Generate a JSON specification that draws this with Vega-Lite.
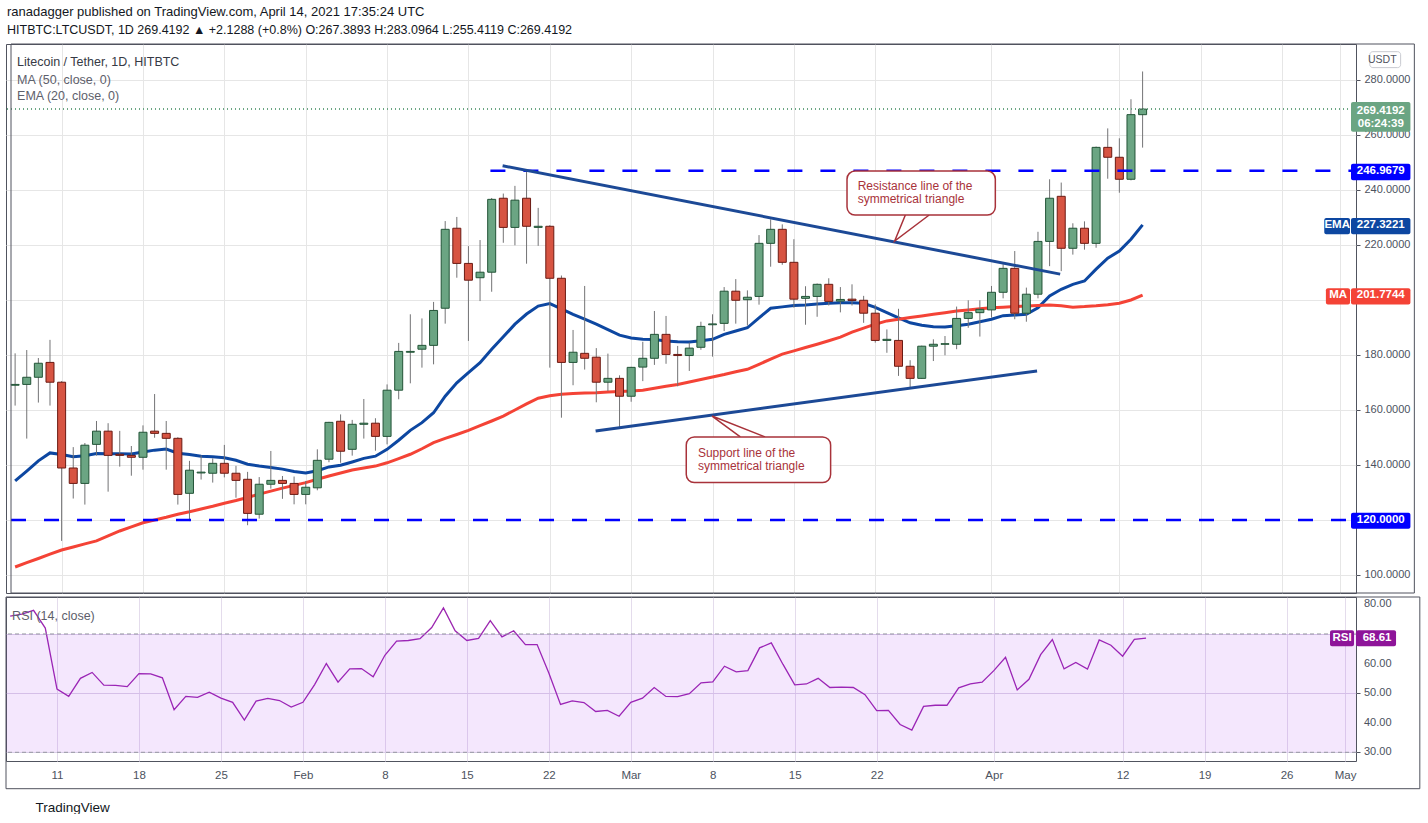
{
  "$schema": "https://vega.github.io/schema/vega-lite/v6.json",
  "background": "white",
  "padding": {"left": 5, "top": 5, "right": 0, "bottom": 0},
  "spacing": 2,
  "title": {
    "text": "ranadagger published on TradingView.com, April 14, 2021 17:35:24 UTC",
    "subtitle": "HITBTC:LTCUSDT, 1D  269.4192 ▲ +2.1288 (+0.8%) O:267.3893 H:283.0964 L:255.4119 C:269.4192",
    "anchor": "start",
    "font": "Liberation Sans",
    "fontSize": 13,
    "fontWeight": "normal",
    "color": "#131722",
    "subtitleFont": "Liberation Sans",
    "subtitleFontSize": 12.5,
    "subtitleColor": "#131722",
    "subtitlePadding": 5,
    "offset": 7,
    "dx": 2
  },
  "config": {
    "font": "Liberation Sans",
    "view": {"stroke": "#50535e", "strokeWidth": 1},
    "axis": {"labelFont": "Liberation Sans", "labelColor": "#4c525e", "labelFontSize": 11, "domain": false, "minExtent": 0}
  },
  "datasets": {
    "candles": [
      {"t": "2021-01-07", "o": 169.0, "h": 180.6, "l": 161.6, "c": 169.3, "ema": 134.2, "ma": 102.9, "rsi": 76.0},
      {"t": "2021-01-08", "o": 169.3, "h": 181.8, "l": 149.6, "c": 171.9, "ema": 137.8, "ma": 104.5, "rsi": 76.7},
      {"t": "2021-01-09", "o": 171.9, "h": 178.9, "l": 162.7, "c": 177.0, "ema": 141.5, "ma": 106.0, "rsi": 78.0},
      {"t": "2021-01-10", "o": 177.3, "h": 185.5, "l": 161.6, "c": 170.1, "ema": 144.4, "ma": 107.6, "rsi": 72.0},
      {"t": "2021-01-11", "o": 170.1, "h": 170.5, "l": 112.4, "c": 138.9, "ema": 143.8, "ma": 109.1, "rsi": 51.4},
      {"t": "2021-01-12", "o": 138.9, "h": 146.5, "l": 127.8, "c": 133.3, "ema": 143.0, "ma": 110.2, "rsi": 48.9},
      {"t": "2021-01-13", "o": 133.3, "h": 148.0, "l": 125.6, "c": 147.2, "ema": 143.4, "ma": 111.3, "rsi": 55.0},
      {"t": "2021-01-14", "o": 147.5, "h": 156.0, "l": 143.4, "c": 152.3, "ema": 144.2, "ma": 112.4, "rsi": 57.0},
      {"t": "2021-01-15", "o": 152.3, "h": 155.2, "l": 130.3, "c": 143.5, "ema": 144.1, "ma": 114.2, "rsi": 52.7},
      {"t": "2021-01-16", "o": 143.9, "h": 152.4, "l": 139.4, "c": 143.5, "ema": 144.1, "ma": 116.0, "rsi": 52.6},
      {"t": "2021-01-17", "o": 143.5, "h": 146.9, "l": 136.1, "c": 142.8, "ema": 144.0, "ma": 117.5, "rsi": 52.2},
      {"t": "2021-01-18", "o": 142.8, "h": 154.4, "l": 138.3, "c": 151.9, "ema": 144.7, "ma": 119.0, "rsi": 56.6},
      {"t": "2021-01-19", "o": 152.3, "h": 165.8, "l": 149.9, "c": 151.5, "ema": 145.4, "ma": 120.0, "rsi": 56.5},
      {"t": "2021-01-20", "o": 151.5, "h": 156.0, "l": 138.3, "c": 149.7, "ema": 145.8, "ma": 121.0, "rsi": 55.2},
      {"t": "2021-01-21", "o": 149.7, "h": 150.1, "l": 125.6, "c": 129.3, "ema": 144.3, "ma": 122.1, "rsi": 44.4},
      {"t": "2021-01-22", "o": 129.7, "h": 141.5, "l": 119.6, "c": 138.1, "ema": 143.8, "ma": 123.0, "rsi": 48.9},
      {"t": "2021-01-23", "o": 137.1, "h": 143.5, "l": 134.7, "c": 137.4, "ema": 143.2, "ma": 124.0, "rsi": 48.6},
      {"t": "2021-01-24", "o": 137.0, "h": 142.4, "l": 133.6, "c": 140.6, "ema": 143.0, "ma": 125.0, "rsi": 50.3},
      {"t": "2021-01-25", "o": 140.6, "h": 147.3, "l": 135.5, "c": 137.0, "ema": 142.6, "ma": 126.1, "rsi": 48.3},
      {"t": "2021-01-26", "o": 137.0, "h": 139.7, "l": 128.1, "c": 134.4, "ema": 141.7, "ma": 127.1, "rsi": 46.9},
      {"t": "2021-01-27", "o": 134.8, "h": 137.5, "l": 118.1, "c": 122.4, "ema": 140.3, "ma": 128.2, "rsi": 40.9},
      {"t": "2021-01-28", "o": 122.1, "h": 135.6, "l": 120.5, "c": 133.0, "ema": 139.6, "ma": 129.4, "rsi": 47.3},
      {"t": "2021-01-29", "o": 133.0, "h": 145.1, "l": 131.4, "c": 134.4, "ema": 139.1, "ma": 130.5, "rsi": 48.2},
      {"t": "2021-01-30", "o": 134.4, "h": 136.0, "l": 127.7, "c": 133.3, "ema": 138.5, "ma": 131.6, "rsi": 47.5},
      {"t": "2021-01-31", "o": 133.3, "h": 135.8, "l": 125.7, "c": 129.3, "ema": 137.6, "ma": 132.6, "rsi": 45.3},
      {"t": "2021-02-01", "o": 129.3, "h": 134.2, "l": 125.7, "c": 131.9, "ema": 137.1, "ma": 133.6, "rsi": 46.9},
      {"t": "2021-02-02", "o": 131.7, "h": 145.7, "l": 130.8, "c": 141.7, "ema": 137.9, "ma": 134.8, "rsi": 52.9},
      {"t": "2021-02-03", "o": 142.1, "h": 155.7, "l": 141.0, "c": 155.5, "ema": 139.3, "ma": 136.0, "rsi": 60.0},
      {"t": "2021-02-04", "o": 155.9, "h": 158.4, "l": 140.8, "c": 145.0, "ema": 139.9, "ma": 137.1, "rsi": 53.7},
      {"t": "2021-02-05", "o": 145.7, "h": 156.4, "l": 143.4, "c": 154.8, "ema": 141.1, "ma": 138.2, "rsi": 58.2},
      {"t": "2021-02-06", "o": 154.8, "h": 164.0, "l": 149.6, "c": 155.2, "ema": 142.4, "ma": 138.9, "rsi": 58.3},
      {"t": "2021-02-07", "o": 155.2, "h": 157.0, "l": 145.2, "c": 150.4, "ema": 143.2, "ma": 139.6, "rsi": 55.5},
      {"t": "2021-02-08", "o": 150.4, "h": 169.3, "l": 147.5, "c": 167.2, "ema": 145.7, "ma": 140.8, "rsi": 62.8},
      {"t": "2021-02-09", "o": 167.2, "h": 184.4, "l": 163.9, "c": 181.3, "ema": 149.0, "ma": 142.3, "rsi": 67.6},
      {"t": "2021-02-10", "o": 181.0, "h": 194.8, "l": 169.7, "c": 181.3, "ema": 152.6, "ma": 143.9, "rsi": 67.8},
      {"t": "2021-02-11", "o": 182.1, "h": 193.3, "l": 175.4, "c": 183.5, "ema": 155.4, "ma": 145.9, "rsi": 68.4},
      {"t": "2021-02-12", "o": 183.5, "h": 199.3, "l": 176.6, "c": 196.2, "ema": 159.0, "ma": 148.1, "rsi": 72.2},
      {"t": "2021-02-13", "o": 197.0, "h": 228.7, "l": 191.4, "c": 225.7, "ema": 165.0, "ma": 149.7, "rsi": 78.8},
      {"t": "2021-02-14", "o": 226.1, "h": 230.2, "l": 208.1, "c": 213.3, "ema": 169.9, "ma": 151.1, "rsi": 71.1},
      {"t": "2021-02-15", "o": 213.3, "h": 219.6, "l": 185.1, "c": 207.2, "ema": 173.6, "ma": 152.6, "rsi": 67.8},
      {"t": "2021-02-16", "o": 208.1, "h": 221.8, "l": 199.6, "c": 210.1, "ema": 177.2, "ma": 154.3, "rsi": 68.5},
      {"t": "2021-02-17", "o": 210.1, "h": 237.1, "l": 203.0, "c": 236.6, "ema": 182.1, "ma": 156.0, "rsi": 74.5},
      {"t": "2021-02-18", "o": 237.0, "h": 238.7, "l": 220.8, "c": 226.4, "ema": 186.6, "ma": 157.8, "rsi": 69.0},
      {"t": "2021-02-19", "o": 226.4, "h": 241.5, "l": 219.9, "c": 236.3, "ema": 191.2, "ma": 160.0, "rsi": 71.1},
      {"t": "2021-02-20", "o": 237.0, "h": 246.9, "l": 213.2, "c": 226.8, "ema": 194.9, "ma": 162.2, "rsi": 66.4},
      {"t": "2021-02-21", "o": 226.4, "h": 233.5, "l": 219.7, "c": 226.8, "ema": 197.8, "ma": 164.3, "rsi": 66.4},
      {"t": "2021-02-22", "o": 226.8, "h": 227.2, "l": 175.4, "c": 207.9, "ema": 198.7, "ma": 165.2, "rsi": 56.8},
      {"t": "2021-02-23", "o": 207.9, "h": 208.9, "l": 157.2, "c": 177.3, "ema": 196.8, "ma": 165.7, "rsi": 46.2},
      {"t": "2021-02-24", "o": 177.3, "h": 189.1, "l": 169.0, "c": 181.0, "ema": 194.8, "ma": 166.0, "rsi": 47.4},
      {"t": "2021-02-25", "o": 180.6, "h": 205.1, "l": 174.7, "c": 178.8, "ema": 193.0, "ma": 166.2, "rsi": 46.8},
      {"t": "2021-02-26", "o": 179.2, "h": 182.5, "l": 162.8, "c": 170.1, "ema": 191.2, "ma": 166.3, "rsi": 43.8},
      {"t": "2021-02-27", "o": 170.1, "h": 180.5, "l": 166.9, "c": 171.5, "ema": 189.2, "ma": 166.5, "rsi": 44.2},
      {"t": "2021-02-28", "o": 171.5, "h": 172.6, "l": 153.6, "c": 165.0, "ema": 187.2, "ma": 166.7, "rsi": 42.2},
      {"t": "2021-03-01", "o": 165.0, "h": 175.7, "l": 163.0, "c": 175.5, "ema": 186.2, "ma": 166.9, "rsi": 46.9},
      {"t": "2021-03-02", "o": 175.6, "h": 184.8, "l": 170.5, "c": 178.8, "ema": 185.7, "ma": 167.2, "rsi": 48.3},
      {"t": "2021-03-03", "o": 178.8, "h": 196.0, "l": 176.4, "c": 187.5, "ema": 185.6, "ma": 167.9, "rsi": 51.9},
      {"t": "2021-03-04", "o": 187.5, "h": 194.2, "l": 176.8, "c": 180.2, "ema": 185.1, "ma": 168.6, "rsi": 48.9},
      {"t": "2021-03-05", "o": 180.2, "h": 183.3, "l": 168.6, "c": 179.8, "ema": 184.8, "ma": 169.3, "rsi": 48.8},
      {"t": "2021-03-06", "o": 179.8, "h": 184.5, "l": 174.2, "c": 182.5, "ema": 184.7, "ma": 170.2, "rsi": 49.8},
      {"t": "2021-03-07", "o": 182.8, "h": 192.1, "l": 181.9, "c": 190.4, "ema": 185.2, "ma": 171.1, "rsi": 53.5},
      {"t": "2021-03-08", "o": 191.0, "h": 194.8, "l": 179.4, "c": 191.3, "ema": 185.7, "ma": 172.0, "rsi": 53.8},
      {"t": "2021-03-09", "o": 191.5, "h": 204.7, "l": 188.7, "c": 203.2, "ema": 187.5, "ma": 172.9, "rsi": 59.1},
      {"t": "2021-03-10", "o": 203.2, "h": 207.6, "l": 191.4, "c": 199.9, "ema": 188.7, "ma": 173.9, "rsi": 57.2},
      {"t": "2021-03-11", "o": 200.1, "h": 203.5, "l": 190.7, "c": 201.0, "ema": 189.9, "ma": 174.8, "rsi": 57.6},
      {"t": "2021-03-12", "o": 201.3, "h": 223.6, "l": 198.3, "c": 220.6, "ema": 193.5, "ma": 176.6, "rsi": 65.3},
      {"t": "2021-03-13", "o": 220.6, "h": 229.3, "l": 212.1, "c": 225.7, "ema": 197.0, "ma": 178.5, "rsi": 67.0},
      {"t": "2021-03-14", "o": 225.7, "h": 227.5, "l": 212.8, "c": 213.7, "ema": 197.5, "ma": 180.3, "rsi": 59.7},
      {"t": "2021-03-15", "o": 213.7, "h": 222.1, "l": 197.2, "c": 200.3, "ema": 198.0, "ma": 181.5, "rsi": 52.8},
      {"t": "2021-03-16", "o": 200.6, "h": 205.0, "l": 191.0, "c": 201.3, "ema": 198.2, "ma": 182.7, "rsi": 53.1},
      {"t": "2021-03-17", "o": 201.3, "h": 206.0, "l": 193.9, "c": 205.7, "ema": 198.5, "ma": 183.9, "rsi": 55.0},
      {"t": "2021-03-18", "o": 205.7, "h": 207.9, "l": 198.0, "c": 199.5, "ema": 198.8, "ma": 185.2, "rsi": 51.9},
      {"t": "2021-03-19", "o": 199.6, "h": 204.7, "l": 195.5, "c": 200.2, "ema": 199.0, "ma": 186.5, "rsi": 52.0},
      {"t": "2021-03-20", "o": 200.3, "h": 205.7, "l": 198.0, "c": 199.8, "ema": 199.0, "ma": 188.3, "rsi": 51.9},
      {"t": "2021-03-21", "o": 199.9, "h": 201.5, "l": 191.7, "c": 195.2, "ema": 198.8, "ma": 189.8, "rsi": 49.5},
      {"t": "2021-03-22", "o": 195.2, "h": 198.4, "l": 184.5, "c": 185.3, "ema": 197.3, "ma": 191.2, "rsi": 44.1},
      {"t": "2021-03-23", "o": 185.3, "h": 189.3, "l": 180.8, "c": 185.7, "ema": 195.4, "ma": 192.4, "rsi": 44.2},
      {"t": "2021-03-24", "o": 185.3, "h": 196.8, "l": 172.4, "c": 175.9, "ema": 193.5, "ma": 193.0, "rsi": 39.4},
      {"t": "2021-03-25", "o": 175.9, "h": 178.1, "l": 168.1, "c": 171.5, "ema": 191.7, "ma": 193.6, "rsi": 37.5},
      {"t": "2021-03-26", "o": 171.5, "h": 183.4, "l": 171.3, "c": 183.2, "ema": 190.8, "ma": 194.2, "rsi": 45.5},
      {"t": "2021-03-27", "o": 183.2, "h": 185.7, "l": 177.8, "c": 183.9, "ema": 190.3, "ma": 194.8, "rsi": 45.9},
      {"t": "2021-03-28", "o": 183.9, "h": 186.9, "l": 179.9, "c": 184.1, "ema": 190.2, "ma": 195.4, "rsi": 45.9},
      {"t": "2021-03-29", "o": 183.9, "h": 197.6, "l": 182.1, "c": 193.3, "ema": 190.6, "ma": 196.0, "rsi": 51.8},
      {"t": "2021-03-30", "o": 193.3, "h": 199.9, "l": 189.9, "c": 195.4, "ema": 191.2, "ma": 196.4, "rsi": 53.1},
      {"t": "2021-03-31", "o": 195.4, "h": 199.9, "l": 186.7, "c": 196.6, "ema": 192.1, "ma": 196.8, "rsi": 53.7},
      {"t": "2021-04-01", "o": 196.4, "h": 205.1, "l": 193.6, "c": 202.8, "ema": 193.0, "ma": 197.2, "rsi": 57.6},
      {"t": "2021-04-02", "o": 202.8, "h": 213.0, "l": 200.6, "c": 211.5, "ema": 194.3, "ma": 197.4, "rsi": 62.1},
      {"t": "2021-04-03", "o": 211.5, "h": 217.8, "l": 193.0, "c": 195.2, "ema": 194.5, "ma": 197.6, "rsi": 51.1},
      {"t": "2021-04-04", "o": 195.2, "h": 204.5, "l": 192.1, "c": 202.1, "ema": 194.8, "ma": 197.8, "rsi": 54.7},
      {"t": "2021-04-05", "o": 202.1, "h": 224.8, "l": 200.6, "c": 221.3, "ema": 197.2, "ma": 198.0, "rsi": 63.0},
      {"t": "2021-04-06", "o": 221.3, "h": 243.9, "l": 212.3, "c": 237.0, "ema": 201.5, "ma": 198.2, "rsi": 68.1},
      {"t": "2021-04-07", "o": 237.7, "h": 242.7, "l": 210.5, "c": 218.8, "ema": 203.9, "ma": 197.9, "rsi": 58.2},
      {"t": "2021-04-08", "o": 218.8, "h": 227.9, "l": 216.5, "c": 226.1, "ema": 205.7, "ma": 197.4, "rsi": 60.4},
      {"t": "2021-04-09", "o": 226.1, "h": 228.6, "l": 218.3, "c": 220.6, "ema": 206.9, "ma": 197.6, "rsi": 58.1},
      {"t": "2021-04-10", "o": 220.6, "h": 255.8, "l": 219.0, "c": 255.5, "ema": 211.2, "ma": 197.9, "rsi": 68.0},
      {"t": "2021-04-11", "o": 255.5, "h": 262.4, "l": 244.1, "c": 251.9, "ema": 215.2, "ma": 198.3, "rsi": 66.2},
      {"t": "2021-04-12", "o": 251.9, "h": 258.8, "l": 239.0, "c": 243.9, "ema": 217.8, "ma": 198.8, "rsi": 62.5},
      {"t": "2021-04-13", "o": 243.9, "h": 273.0, "l": 243.5, "c": 267.4, "ema": 222.1, "ma": 200.0, "rsi": 68.2},
      {"t": "2021-04-14", "o": 267.3893, "h": 283.0964, "l": 255.4119, "c": 269.4192, "ema": 227.3221, "ma": 201.7744, "rsi": 68.61}
    ],
    "framePrice": [{"x1": "2021-01-06T15:29:00Z", "x2": "2021-05-07T09:07:00Z", "y1": 293.09, "y2": 93.45}],
    "frameRsi": [{"x1": "2021-01-06T15:29:00Z", "x2": "2021-05-07T09:07:00Z", "y1": 82.5, "y2": 17.7}],
    "levels": [
      {"start": "2021-02-16T21:22:00Z", "end": "2021-05-01T22:19:00Z", "p": 246.9679},
      {"start": "2021-01-06T15:29:00Z", "end": "2021-05-01T22:19:00Z", "p": 120}
    ],
    "trend": [
      {"line": "resistance", "t": "2021-02-17T22:34:00Z", "p": 248.8},
      {"line": "resistance", "t": "2021-04-06T21:50:00Z", "p": 209.4},
      {"line": "support", "t": "2021-02-25T22:34:00Z", "p": 152.4},
      {"line": "support", "t": "2021-04-04T22:04:00Z", "p": 174.2}
    ],
    "callouts": [
      {"x1": "2021-03-19T13:41:00Z", "x2": "2021-04-01T07:55:00Z", "y1": 246.9, "y2": 230.9},
      {"x1": "2021-03-05T17:46:00Z", "x2": "2021-03-18T03:50:00Z", "y1": 150.2, "y2": 133.6}
    ],
    "pointers": [
      {"name": "res", "ord": 1, "t": "2021-03-24T14:09:00Z", "p": 230.9},
      {"name": "res", "ord": 2, "t": "2021-03-23T16:05:00Z", "p": 221.45},
      {"name": "res", "ord": 3, "t": "2021-03-26T15:22:00Z", "p": 230.9},
      {"name": "sup", "ord": 1, "t": "2021-03-10T09:21:00Z", "p": 150.2},
      {"name": "sup", "ord": 2, "t": "2021-03-07T23:02:00Z", "p": 157.8},
      {"name": "sup", "ord": 3, "t": "2021-03-12T12:29:00Z", "p": 150.2}
    ],
    "notes": [
      {"t": "2021-03-20T11:46:00Z", "p": 241.45, "label": "Resistance line of the"},
      {"t": "2021-03-20T11:46:00Z", "p": 236.7, "label": "symmetrical triangle"},
      {"t": "2021-03-06T17:46:00Z", "p": 144.4, "label": "Support line of the"},
      {"t": "2021-03-06T17:46:00Z", "p": 139.6, "label": "symmetrical triangle"}
    ],
    "legend": [
      {"t": "2021-01-07T04:00:00Z", "p": 286.5, "label": "Litecoin / Tether, 1D, HITBTC"},
      {"t": "2021-01-07T04:00:00Z", "p": 280.0, "label": "MA (50, close, 0)"},
      {"t": "2021-01-07T04:00:00Z", "p": 274.2, "label": "EMA (20, close, 0)"}
    ],
    "tags": [
      {"kind": "last", "x1": "2021-05-01T22:19:00Z", "x2": "2021-05-07T01:00:00Z", "y1": 272.0, "y2": 261.2},
      {"kind": "level", "x1": "2021-05-01T22:19:00Z", "x2": "2021-05-07T01:00:00Z", "y1": 249.56, "y2": 243.53},
      {"kind": "level", "x1": "2021-05-01T22:19:00Z", "x2": "2021-05-07T01:00:00Z", "y1": 122.65, "y2": 116.85},
      {"kind": "ema", "x1": "2021-05-01T22:19:00Z", "x2": "2021-05-07T01:00:00Z", "y1": 229.8, "y2": 223.9},
      {"kind": "ema", "x1": "2021-04-29T15:07:00Z", "x2": "2021-05-01T20:17:00Z", "y1": 229.8, "y2": 223.9},
      {"kind": "ma", "x1": "2021-05-01T22:19:00Z", "x2": "2021-05-07T01:00:00Z", "y1": 204.25, "y2": 198.4},
      {"kind": "ma", "x1": "2021-04-29T18:29:00Z", "x2": "2021-05-01T20:17:00Z", "y1": 204.25, "y2": 198.4}
    ],
    "tagText": [
      {"t": "2021-05-04T11:46:00Z", "p": 268.7, "label": "269.4192"},
      {"t": "2021-05-04T11:46:00Z", "p": 264.0, "label": "06:24:39"},
      {"t": "2021-05-04T11:46:00Z", "p": 246.97, "label": "246.9679"},
      {"t": "2021-05-04T11:46:00Z", "p": 120.0, "label": "120.0000"},
      {"t": "2021-05-04T11:46:00Z", "p": 227.32, "label": "227.3221"},
      {"t": "2021-04-30T17:45:00Z", "p": 227.32, "label": "EMA"},
      {"t": "2021-05-04T11:46:00Z", "p": 201.77, "label": "201.7744"},
      {"t": "2021-04-30T19:40:00Z", "p": 201.77, "label": "MA"}
    ],
    "unit": [{"x1": "2021-05-03T13:12:00Z", "x2": "2021-05-06T04:48:00Z", "y1": 290.3, "y2": 284.5, "tx": "2021-05-04T14:53:00Z", "ty": 287.4, "label": "USDT"}],
    "band": [{"x1": "2021-01-06T15:29:00Z", "x2": "2021-05-01T22:19:00Z", "hi": 70, "lo": 30}],
    "bounds": [{"p": 70}, {"p": 30}],
    "rsiScale": [
      {"t": "2021-05-02T14:40:00Z", "p": 80, "label": "80.00"},
      {"t": "2021-05-02T14:40:00Z", "p": 60, "label": "60.00"},
      {"t": "2021-05-02T14:40:00Z", "p": 50, "label": "50.00"},
      {"t": "2021-05-02T14:40:00Z", "p": 40, "label": "40.00"},
      {"t": "2021-05-02T14:40:00Z", "p": 30, "label": "30.00"}
    ],
    "rsiTags": [
      {"x1": "2021-04-29T17:02:00Z", "x2": "2021-05-01T18:14:00Z", "y1": 71.26, "y2": 65.86},
      {"x1": "2021-05-01T22:19:00Z", "x2": "2021-05-05T08:24:00Z", "y1": 71.26, "y2": 65.86}
    ],
    "rsiTagText": [
      {"t": "2021-04-30T17:45:00Z", "p": 68.6, "label": "RSI"},
      {"t": "2021-05-03T17:31:00Z", "p": 68.6, "label": "68.61"}
    ],
    "rsiLegend": [{"t": "2021-01-07T04:00:00Z", "p": 76.0, "label": "RSI (14, close)"}]
  },
  "vconcat": [
    {
      "width": 1350,
      "height": 549,
      "layer": [
        {
          "data": {"name": "candles"},
          "mark": {"type": "line", "color": "#0d47a1", "strokeWidth": 3},
          "encoding": {
            "x": {"field": "t", "type": "temporal", "title": null,
              "scale": {"type": "utc", "domain": [{"year": 2021, "month": 1, "date": 6, "hours": 15, "minutes": 29, "utc": true}, {"year": 2021, "month": 5, "date": 1, "hours": 22, "minutes": 19, "utc": true}]},
              "axis": {"values": [
                {"year": 2021, "month": 1, "date": 11, "utc": true}, {"year": 2021, "month": 1, "date": 18, "utc": true}, {"year": 2021, "month": 1, "date": 25, "utc": true},
                {"year": 2021, "month": 2, "date": 1, "utc": true}, {"year": 2021, "month": 2, "date": 8, "utc": true}, {"year": 2021, "month": 2, "date": 15, "utc": true}, {"year": 2021, "month": 2, "date": 22, "utc": true},
                {"year": 2021, "month": 3, "date": 1, "utc": true}, {"year": 2021, "month": 3, "date": 8, "utc": true}, {"year": 2021, "month": 3, "date": 15, "utc": true}, {"year": 2021, "month": 3, "date": 22, "utc": true},
                {"year": 2021, "month": 4, "date": 1, "utc": true}, {"year": 2021, "month": 4, "date": 12, "utc": true}, {"year": 2021, "month": 4, "date": 19, "utc": true}, {"year": 2021, "month": 4, "date": 26, "utc": true},
                {"year": 2021, "month": 5, "date": 1, "utc": true}],
                "labels": false, "ticks": false, "domain": false, "grid": true, "gridColor": "#e6e6e6"}},
            "y": {"field": "ema", "type": "quantitative", "title": null,
              "scale": {"domain": [93.45, 293.09], "nice": false, "zero": false},
              "axis": {"orient": "right", "values": [100, 120, 140, 160, 180, 200, 220, 240, 260, 280],
                "labelExpr": "datum.value == 120 || datum.value == 200 ? '' : format(datum.value, '.4f')",
                "labelOverlap": false, "grid": true, "gridColor": "#e6e6e6", "ticks": true, "tickSize": 4, "tickColor": "#50535e", "labelPadding": 4, "domain": false}}
          }
        },
        {
          "data": {"name": "candles"},
          "mark": {"type": "line", "color": "#f44336", "strokeWidth": 3},
          "encoding": {
            "x": {"field": "t", "type": "temporal"},
            "y": {"field": "ma", "type": "quantitative"}
          }
        },
        {
          "data": {"name": "candles"},
          "mark": {"type": "rule", "color": "#737375", "strokeWidth": 1},
          "encoding": {
            "x": {"field": "t", "type": "temporal"},
            "y": {"field": "l", "type": "quantitative"},
            "y2": {"field": "h"}
          }
        },
        {
          "data": {"name": "candles"},
          "mark": {"type": "bar", "width": 8, "strokeWidth": 1},
          "encoding": {
            "x": {"field": "t", "type": "temporal"},
            "y": {"field": "o", "type": "quantitative"},
            "y2": {"field": "c"},
            "fill": {"condition": {"test": "datum.c >= datum.o", "value": "#6ba583"}, "value": "#d75442"},
            "stroke": {"condition": {"test": "datum.c >= datum.o", "value": "#225437"}, "value": "#6b1a13"}
          }
        },
        {
          "data": {"name": "candles"},
          "mark": {"type": "rule", "color": "#6ba583", "strokeDash": [1, 3], "strokeWidth": 1},
          "encoding": {"y": {"datum": 269.4192}}
        },
        {
          "data": {"name": "levels"},
          "mark": {"type": "rule", "color": "#0000ff", "strokeWidth": 2.5, "strokeDash": [15, 18]},
          "encoding": {
            "x": {"field": "start", "type": "temporal"},
            "x2": {"field": "end"},
            "y": {"field": "p", "type": "quantitative"}
          }
        },
        {
          "data": {"name": "trend"},
          "mark": {"type": "line", "color": "#1c4996", "strokeWidth": 3},
          "encoding": {
            "x": {"field": "t", "type": "temporal"},
            "y": {"field": "p", "type": "quantitative"},
            "detail": {"field": "line"}
          }
        },
        {
          "data": {"name": "pointers"},
          "mark": {"type": "line", "color": "#a8323a", "strokeWidth": 1.5},
          "encoding": {
            "x": {"field": "t", "type": "temporal"},
            "y": {"field": "p", "type": "quantitative"},
            "detail": {"field": "name"},
            "order": {"field": "ord"}
          }
        },
        {
          "data": {"name": "callouts"},
          "mark": {"type": "rect", "fill": "white", "stroke": "#a8323a", "strokeWidth": 1.5, "cornerRadius": 8},
          "encoding": {
            "x": {"field": "x1", "type": "temporal"},
            "x2": {"field": "x2"},
            "y": {"field": "y1", "type": "quantitative"},
            "y2": {"field": "y2"}
          }
        },
        {
          "data": {"name": "notes"},
          "mark": {"type": "text", "align": "left", "baseline": "middle", "fontSize": 12, "color": "#a8323a"},
          "encoding": {
            "x": {"field": "t", "type": "temporal"},
            "y": {"field": "p", "type": "quantitative"},
            "text": {"field": "label"}
          }
        },
        {
          "data": {"name": "legend"},
          "mark": {"type": "text", "align": "left", "baseline": "middle", "fontSize": 12.5},
          "encoding": {
            "x": {"field": "t", "type": "temporal"},
            "y": {"field": "p", "type": "quantitative"},
            "text": {"field": "label"},
            "color": {"condition": {"test": "datum.p > 285", "value": "#363a45"}, "value": "#5d606b"}
          }
        },
        {
          "data": {"name": "framePrice"},
          "mark": {"type": "rect", "fillOpacity": 0, "stroke": "#50535e", "strokeWidth": 1},
          "encoding": {
            "x": {"field": "x1", "type": "temporal"},
            "x2": {"field": "x2"},
            "y": {"field": "y1", "type": "quantitative"},
            "y2": {"field": "y2"}
          }
        },
        {
          "data": {"name": "tags"},
          "mark": {"type": "rect", "cornerRadius": 2},
          "encoding": {
            "x": {"field": "x1", "type": "temporal"},
            "x2": {"field": "x2"},
            "y": {"field": "y1", "type": "quantitative"},
            "y2": {"field": "y2"},
            "color": {"field": "kind", "type": "nominal", "legend": null,
              "scale": {"domain": ["last", "level", "ema", "ma"], "range": ["#6ba583", "#0000ff", "#0d47a1", "#f44336"]}}
          }
        },
        {
          "data": {"name": "tagText"},
          "mark": {"type": "text", "align": "center", "baseline": "middle", "fontSize": 11.5, "fontWeight": "bold", "color": "white"},
          "encoding": {
            "x": {"field": "t", "type": "temporal"},
            "y": {"field": "p", "type": "quantitative"},
            "text": {"field": "label"}
          }
        },
        {
          "data": {"name": "unit"},
          "mark": {"type": "rect", "fill": "white", "stroke": "#c8cad0", "cornerRadius": 3},
          "encoding": {
            "x": {"field": "x1", "type": "temporal"},
            "x2": {"field": "x2"},
            "y": {"field": "y1", "type": "quantitative"},
            "y2": {"field": "y2"}
          }
        },
        {
          "data": {"name": "unit"},
          "mark": {"type": "text", "align": "center", "baseline": "middle", "fontSize": 10.5, "color": "#50535e"},
          "encoding": {
            "x": {"field": "tx", "type": "temporal"},
            "y": {"field": "ty", "type": "quantitative"},
            "text": {"field": "label"}
          }
        }
      ]
    },
    {
      "width": 1350,
      "height": 164,
      "layer": [
        {
          "data": {"name": "candles"},
          "mark": {"type": "line", "color": "#9c27b0", "strokeWidth": 1.3},
          "encoding": {
            "x": {"field": "t", "type": "temporal", "title": "TradingView",
              "scale": {"type": "utc", "domain": [{"year": 2021, "month": 1, "date": 6, "hours": 15, "minutes": 29, "utc": true}, {"year": 2021, "month": 5, "date": 1, "hours": 22, "minutes": 19, "utc": true}]},
              "axis": {"values": [
                {"year": 2021, "month": 1, "date": 11, "utc": true}, {"year": 2021, "month": 1, "date": 18, "utc": true}, {"year": 2021, "month": 1, "date": 25, "utc": true},
                {"year": 2021, "month": 2, "date": 1, "utc": true}, {"year": 2021, "month": 2, "date": 8, "utc": true}, {"year": 2021, "month": 2, "date": 15, "utc": true}, {"year": 2021, "month": 2, "date": 22, "utc": true},
                {"year": 2021, "month": 3, "date": 1, "utc": true}, {"year": 2021, "month": 3, "date": 8, "utc": true}, {"year": 2021, "month": 3, "date": 15, "utc": true}, {"year": 2021, "month": 3, "date": 22, "utc": true},
                {"year": 2021, "month": 4, "date": 1, "utc": true}, {"year": 2021, "month": 4, "date": 12, "utc": true}, {"year": 2021, "month": 4, "date": 19, "utc": true}, {"year": 2021, "month": 4, "date": 26, "utc": true},
                {"year": 2021, "month": 5, "date": 1, "utc": true}],
                "labelExpr": "utcdate(datum.value) == 1 ? utcFormat(datum.value, '%b') : utcFormat(datum.value, '%-d')",
                "labelFontSize": 11.5, "labelPadding": 8, "ticks": false, "domain": false, "grid": true, "gridColor": "#e4dcec",
                "titleFont": "Liberation Sans", "titleFontSize": 13.5, "titleFontWeight": "normal", "titleColor": "#131722",
                "titleAnchor": "start", "titleAlign": "left", "titleBaseline": "middle", "titleX": 29, "titleY": 46}},
            "y": {"field": "rsi", "type": "quantitative", "title": null,
              "scale": {"domain": [27.06, 82.5], "nice": false, "zero": false},
              "axis": {"orient": "right", "values": [30, 40, 50, 60, 70, 80], "labels": false,
                "grid": true, "gridColor": "#ddd3e8", "ticks": true, "tickSize": 4, "tickColor": "#50535e", "domain": false}}
          }
        },
        {
          "data": {"name": "band"},
          "mark": {"type": "rect", "color": "#9010e8", "opacity": 0.1},
          "encoding": {
            "x": {"field": "x1", "type": "temporal"},
            "x2": {"field": "x2"},
            "y": {"field": "hi", "type": "quantitative"},
            "y2": {"field": "lo"}
          }
        },
        {
          "data": {"name": "bounds"},
          "mark": {"type": "rule", "color": "#9598a1", "strokeDash": [4, 3], "strokeWidth": 1},
          "encoding": {"y": {"field": "p", "type": "quantitative"}}
        },
        {
          "data": {"name": "rsiLegend"},
          "mark": {"type": "text", "align": "left", "baseline": "middle", "fontSize": 12.5, "color": "#5d606b"},
          "encoding": {
            "x": {"field": "t", "type": "temporal"},
            "y": {"field": "p", "type": "quantitative"},
            "text": {"field": "label"}
          }
        },
        {
          "data": {"name": "rsiScale"},
          "mark": {"type": "text", "align": "left", "baseline": "middle", "fontSize": 11, "color": "#4c525e"},
          "encoding": {
            "x": {"field": "t", "type": "temporal"},
            "y": {"field": "p", "type": "quantitative"},
            "text": {"field": "label"}
          }
        },
        {
          "data": {"name": "frameRsi"},
          "mark": {"type": "rect", "fillOpacity": 0, "stroke": "#50535e", "strokeWidth": 1},
          "encoding": {
            "x": {"field": "x1", "type": "temporal"},
            "x2": {"field": "x2"},
            "y": {"field": "y1", "type": "quantitative"},
            "y2": {"field": "y2"}
          }
        },
        {
          "data": {"name": "rsiTags"},
          "mark": {"type": "rect", "color": "#8e1599", "cornerRadius": 2},
          "encoding": {
            "x": {"field": "x1", "type": "temporal"},
            "x2": {"field": "x2"},
            "y": {"field": "y1", "type": "quantitative"},
            "y2": {"field": "y2"}
          }
        },
        {
          "data": {"name": "rsiTagText"},
          "mark": {"type": "text", "align": "center", "baseline": "middle", "fontSize": 11.5, "fontWeight": "bold", "color": "white"},
          "encoding": {
            "x": {"field": "t", "type": "temporal"},
            "y": {"field": "p", "type": "quantitative"},
            "text": {"field": "label"}
          }
        }
      ]
    }
  ]
}
